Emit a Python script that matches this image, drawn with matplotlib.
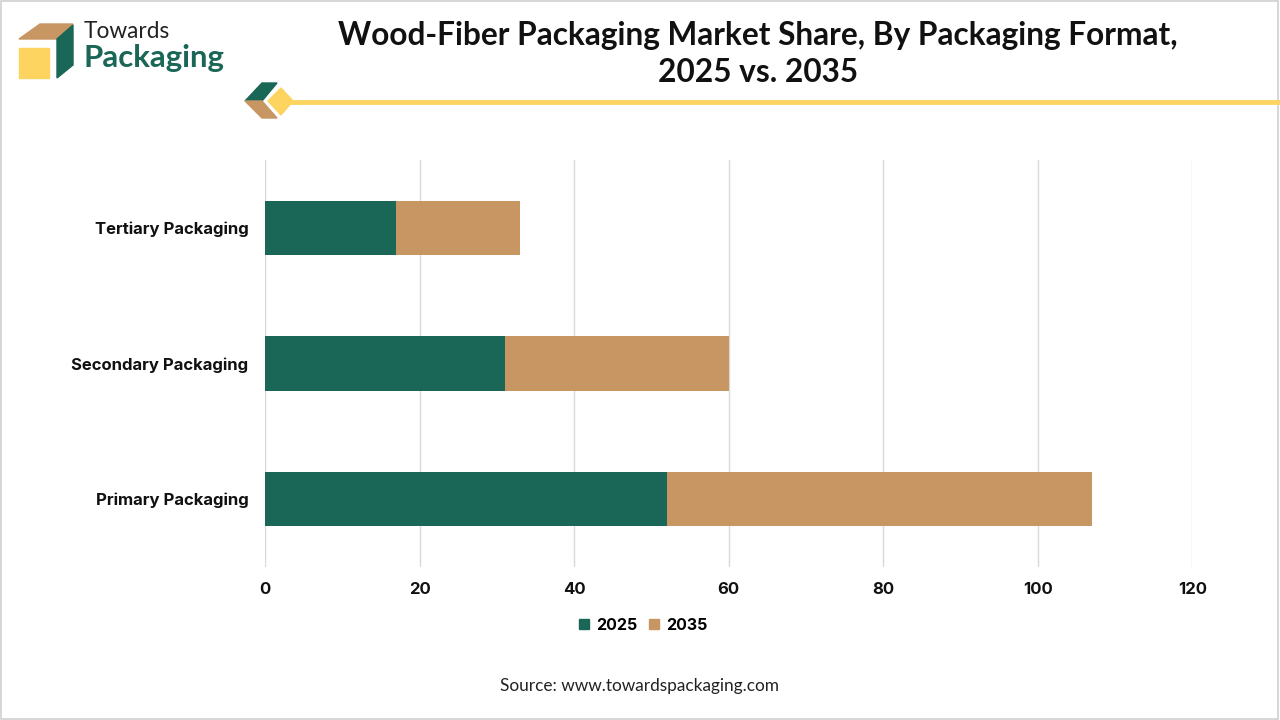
import matplotlib.pyplot as plt
import matplotlib.patches as mpatches
from matplotlib.lines import Line2D

# data
categories = ['Primary Packaging', 'Secondary Packaging', 'Tertiary Packaging']
share_2025 = [52, 31, 17]
share_2035 = [55, 29, 16]
series_names = ['2025', '2035']

GREEN = '#1a6657'
TAN = '#c89663'
YELLOW = '#fcd45f'

fig = plt.figure(figsize=(12.8, 7.2), dpi=100)
W, H = 1280, 720


def fx(x):
    return x / W


def fy(y):
    return 1 - y / H


# --- main axes ---
ax = fig.add_axes([fx(265), fy(567), fx(1192.3) - fx(265), fy(160) - fy(567)])
ypos = list(range(len(categories)))
ax.barh(ypos, share_2025, height=0.4, color=GREEN, label=series_names[0], zorder=3)
ax.barh(ypos, share_2035, left=share_2025, height=0.4, color=TAN,
        label=series_names[1], zorder=3)

ax.set_xlim(0, 120)
ax.set_ylim(-0.5, len(categories) - 0.5)
ax.set_xticks(range(0, 121, 20))
ax.set_yticks(ypos)
ax.set_yticklabels(categories)
ax.grid(axis='x', color='#d9d9d9', linewidth=1, zorder=0)
for s in ax.spines.values():
    s.set_visible(False)
ax.tick_params(length=0)
ax.tick_params(axis='y', pad=12)
ax.tick_params(axis='x', pad=11)
for lab in ax.get_yticklabels() + ax.get_xticklabels():
    lab.set_fontfamily('Inter')
    lab.set_fontweight('bold')
    lab.set_fontsize(12)
    lab.set_color('#111111')

handles = [mpatches.Patch(color=GREEN), mpatches.Patch(color=TAN)]
leg = fig.legend(handles, series_names, loc='center', bbox_to_anchor=(fx(643), fy(625)),
                 ncol=2, frameon=False, handlelength=0.65, handleheight=0.65,
                 handletextpad=0.4, columnspacing=0.75,
                 prop={'family': 'Inter', 'weight': 'bold', 'size': 11.5})

# --- title ---
fig.text(fx(758), fy(35), 'Wood-Fiber Packaging Market Share, By Packaging Format,',
         ha='center', va='center', fontsize=22.8, fontweight='bold', family='Lato',
         color='#111111')
fig.text(fx(758), fy(72), '2025 vs. 2035', ha='center', va='center', fontsize=22.8,
         fontweight='bold', family='Lato', color='#111111')

# --- source ---
fig.text(fx(640), fy(686), 'Source: www.towardspackaging.com', ha='center', va='center',
         fontsize=12.4, family='Lato', color='#222222')

# --- logo ---
fig.patches.append(mpatches.Polygon(
    [(fx(19), fy(39)), (fx(40), fy(24)), (fx(73), fy(24)), (fx(57), fy(39))],
    closed=True, color=TAN, transform=fig.transFigure))
fig.patches.append(mpatches.Polygon(
    [(fx(57), fy(39)), (fx(73), fy(25)), (fx(73), fy(65)), (fx(57), fy(78))],
    closed=True, color=GREEN, transform=fig.transFigure))
fig.patches.append(mpatches.Rectangle(
    (fx(19), fy(78)), fx(30), fy(48) - fy(78), color=YELLOW, transform=fig.transFigure))
fig.text(fx(84), fy(32), 'Towards', ha='left', va='center', fontsize=16.3, family='Lato',
         color='#222222')
fig.text(fx(83), fy(58), 'Packaging', ha='left', va='center', fontsize=22.4,
         fontweight='bold', family='Lato', color=GREEN)

# --- decorative line under title ---
fig.lines.append(Line2D([fx(285), fx(1280)], [fy(101.5), fy(101.5)], color=YELLOW,
                        linewidth=3.5, transform=fig.transFigure))
fig.patches.append(mpatches.Polygon(
    [(fx(245), fy(101)), (fx(262), fy(83)), (fx(277), fy(83)), (fx(262), fy(101))],
    closed=True, color=GREEN, transform=fig.transFigure))
fig.patches.append(mpatches.Polygon(
    [(fx(245), fy(101)), (fx(262), fy(101)), (fx(277), fy(118)), (fx(262), fy(118))],
    closed=True, color=TAN, transform=fig.transFigure))
fig.patches.append(mpatches.Polygon(
    [(fx(281), fy(88)), (fx(293), fy(101)), (fx(281), fy(115)), (fx(268), fy(101))],
    closed=True, color=YELLOW, transform=fig.transFigure))

# --- thin border around the image ---
fig.patches.append(mpatches.Rectangle((0.0005, 0.001), 0.998, 0.997, fill=False,
                                      edgecolor='#d0d0d0', linewidth=1.2,
                                      transform=fig.transFigure))

fig.savefig('out.png', dpi=100)
